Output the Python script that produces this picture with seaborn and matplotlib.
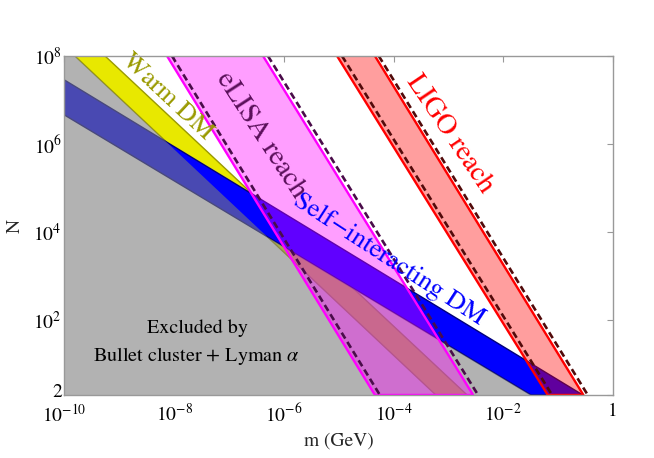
import numpy as np
import matplotlib
matplotlib.use("Agg")
import matplotlib.pyplot as plt
import matplotlib.transforms as mtransforms
import seaborn as sns

# ---------------- data ----------------
m_range = [1e-10, 1.0]
N_range = [2.0, 1e8]
x_ticks = [1e-10, 1e-8, 1e-6, 1e-4, 1e-2, 1.0]
x_ticklabels = [r"$10^{-10}$", r"$10^{-8}$", r"$10^{-6}$", r"$10^{-4}$", r"$10^{-2}$", "1"]
y_ticks = [2, 1e2, 1e4, 1e6, 1e8]
y_ticklabels = ["2", r"$10^{2}$", r"$10^{4}$", r"$10^{6}$", r"$10^{8}$"]

# edges that run from the top (N=1e8) to the bottom (N=2) of the plot
edge_N = [1e8, 2.0]
warm_lower_m = [10**-9.81, 10**-3.23]     # Lyman-alpha line
warm_upper_m = [10**-9.26, 10**-2.66]

# self-interacting DM band (enters at left edge)
sidm_upper_m = [1e-10, 10**-0.55]
sidm_upper_N = [10**7.455, 2.0]
sidm_lower_m = [1e-10, 10**-1.495]       # Bullet-cluster line
sidm_lower_N = [10**6.66, 2.0]

# excluded region (Bullet cluster + Lyman alpha)
excl_m = [1e-10, 10**-9.81, 10**-6.30, 10**-1.495, 1e-10]
excl_N = [1e8, 1e8, 10**3.89, 2.0, 2.0]

# eLISA reach
elisa_left_m = [10**-8.13, 10**-4.34]
elisa_right_m = [10**-6.38, 10**-2.55]
elisa_dash_left_m = [10**-8.04, 10**-4.25]
elisa_dash_right_m = [10**-6.29, 10**-2.46]

# LIGO reach
ligo_left_m = [10**-5.03, 10**-1.19]
ligo_right_m = [10**-4.34, 10**-0.54]
ligo_dash_left_m = [10**-4.94, 10**-1.11]
ligo_dash_right_m = [10**-4.27, 10**-0.46]

# ---------------- style ----------------
sns.set_theme(style="white")
plt.rcParams["font.family"] = ["STIXGeneral", "DejaVu Serif"]
plt.rcParams["mathtext.fontset"] = "stix"

fig = plt.figure(figsize=(6.54, 4.58), dpi=100)
ax = fig.add_axes([0.0986, 0.1376, 0.8387, 0.7401])
ax.set_xscale("log")
ax.set_yscale("log")
ax.set_xlim(m_range)
ax.set_ylim(N_range)

# Warm DM band
yellow = (0.91, 0.91, 0.0)
ax.fill(warm_lower_m + warm_upper_m[::-1], edge_N + edge_N[::-1],
        facecolor=yellow, edgecolor="#9a9a00", lw=1.0, zorder=1)

# SIDM band
ax.fill(sidm_upper_m + sidm_lower_m[::-1], sidm_upper_N + sidm_lower_N[::-1],
        facecolor=(0, 0, 1), edgecolor="#00007a", lw=1.0, zorder=2)

# Excluded region (translucent gray on top)
ax.fill(excl_m, excl_N, facecolor=(0.49, 0.49, 0.49), alpha=0.59,
        edgecolor="none", zorder=3)

# eLISA band
ax.fill(elisa_left_m + elisa_right_m[::-1], edge_N + edge_N[::-1],
        facecolor=(1, 0, 1), alpha=0.38, edgecolor="none", zorder=4)
sns.lineplot(x=elisa_left_m + elisa_right_m[::-1], y=edge_N + edge_N[::-1],
             ax=ax, color=(1, 0, 1), lw=1.7, sort=False, estimator=None, zorder=5)
for mm in (elisa_dash_left_m, elisa_dash_right_m):
    sns.lineplot(x=mm, y=edge_N, ax=ax, color="#4a0c4a", lw=1.9,
                 linestyle=(0, (2.6, 1.5)), sort=False, estimator=None, zorder=6)

# LIGO band
ax.fill(ligo_left_m + ligo_right_m[::-1], edge_N + edge_N[::-1],
        facecolor=(1, 0, 0), alpha=0.38, edgecolor="none", zorder=4)
sns.lineplot(x=ligo_left_m + ligo_right_m[::-1], y=edge_N + edge_N[::-1],
             ax=ax, color=(1, 0, 0), lw=1.7, sort=False, estimator=None, zorder=5)
for mm in (ligo_dash_left_m, ligo_dash_right_m):
    sns.lineplot(x=mm, y=edge_N, ax=ax, color="#520a0a", lw=1.9,
                 linestyle=(0, (2.6, 1.5)), sort=False, estimator=None, zorder=6)

# ---------------- labels ----------------
kw = dict(transform=ax.transAxes, ha="center", va="center", rotation_mode="anchor", zorder=8)
ax.text(0.187, 0.879, "Warm DM", color="#9a9a00", fontsize=19, rotation=-43, **kw)
ax.text(0.358, 0.765, "eLISA reach", color="#5a0f5a", fontsize=20.5, rotation=-57, **kw)
ax.text(0.702, 0.770, "LIGO reach", color=(1, 0, 0), fontsize=20.5, rotation=-56, **kw)
ax.text(0.592, 0.398, "Self\u2212interacting DM", color=(0, 0, 1), fontsize=19, rotation=-33, **kw)
ax.text(0.2416, 0.1976, "Excluded by", color="black", fontsize=14.5, **kw)
ax.text(0.2397, 0.115, r"Bullet cluster + Lyman $\alpha$", color="black", fontsize=14.5, **kw)

ax.set_xticks(x_ticks)
ax.set_xticklabels(x_ticklabels)
ax.set_yticks(y_ticks)
ax.set_yticklabels(y_ticklabels)
ax.minorticks_off()
ax.tick_params(which="major", direction="in", length=4, width=0.8, color="#999999",
               top=True, right=True, labelsize=14, pad=2, labelcolor="black")
ax.tick_params(axis="x", pad=6)
# lift the "2" label slightly, as in the reference
lift = mtransforms.ScaledTranslation(0, 3 / 72, fig.dpi_scale_trans)
first_ylab = ax.get_yticklabels()[0]
first_ylab.set_transform(first_ylab.get_transform() + lift)
for s in ax.spines.values():
    s.set_color("#999999")
    s.set_linewidth(1.0)
    s.set_zorder(9)
ax.set_xlabel("m (GeV)", fontsize=14, labelpad=5)
ax.set_ylabel("N", fontsize=14, labelpad=7)
ax.grid(False)

fig.savefig("out.png", dpi=100)
